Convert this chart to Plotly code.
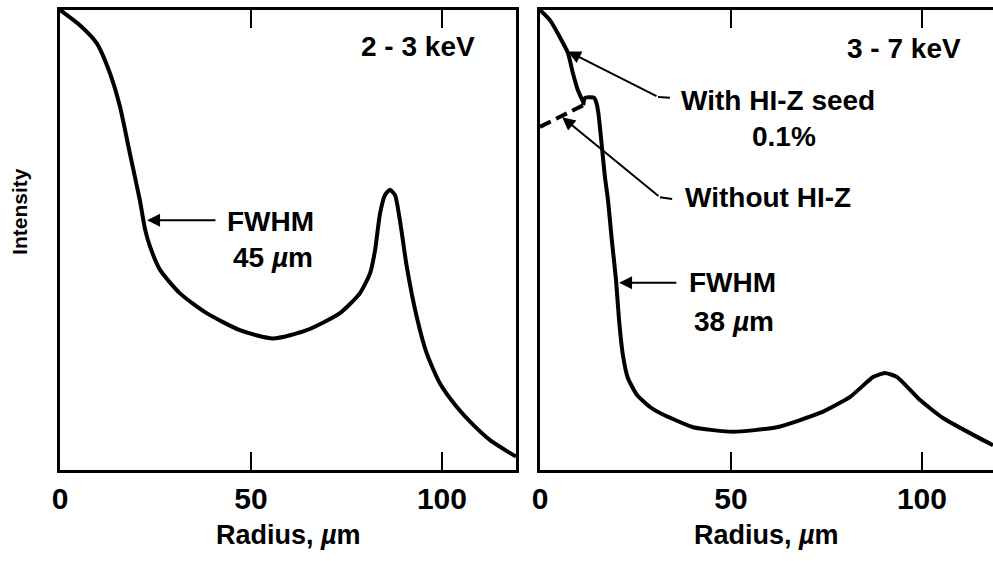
import plotly.graph_objects as go

# ---------------- data ----------------
# Left panel: 2 - 3 keV
left_radius = [0, 5.2, 9.6, 13.1, 15.7, 18.3, 20.9, 22.3, 23.6, 26.2, 31.4, 38.4,
               47.1, 55.8, 64.6, 73.3, 78.5, 81.2, 82.5, 83.8, 85.1, 86.4, 87.7,
               89.0, 90.8, 93.4, 96.0, 99.5, 103.8, 108.2, 112.6, 119.4]
left_intensity = [1.0, 0.967, 0.928, 0.862, 0.790, 0.688, 0.587, 0.522, 0.485, 0.435,
                  0.384, 0.341, 0.304, 0.286, 0.304, 0.341, 0.384, 0.428, 0.478, 0.558,
                  0.598, 0.609, 0.598, 0.543, 0.442, 0.333, 0.254, 0.188, 0.138, 0.098,
                  0.065, 0.029]

# Right panel: 3 - 7 keV, centre with Hi-Z seed
seed_radius = [0, 2.6, 5.2, 7.3, 8.6, 9.9, 11.3]
seed_intensity = [1.0, 0.978, 0.941, 0.907, 0.863, 0.826, 0.800]

# Right panel: centre without Hi-Z (dashed)
noseed_radius = [0, 11.3]
noseed_intensity = [0.746, 0.793]

# Right panel: common profile
shared_radius = [11.3, 11.7, 12.3, 14.2, 14.8, 15.3, 16.2, 17.0, 17.8, 18.8, 19.9, 20.7,
                 21.7, 23.0, 25.4, 28.8, 31.4, 40.1, 50.5, 62.0, 73.3, 81.2, 87.2,
                 90.3, 93.5, 99.5, 105.5, 114.4, 118.6]
shared_intensity = [0.793, 0.808, 0.810, 0.809, 0.797, 0.775, 0.703, 0.637, 0.587, 0.500,
                    0.413, 0.326, 0.250, 0.200, 0.163, 0.137, 0.124, 0.093, 0.083, 0.093,
                    0.124, 0.159, 0.202, 0.211, 0.202, 0.152, 0.113, 0.072, 0.054]

x_ticks = [0, 50, 100]
x_tick_labels = ["0", "50", "100"]

# ---------------- figure ----------------
FONT = "Liberation Sans, Arial, Helvetica, sans-serif"
W, H = 993, 561
fig = go.Figure()

line_style = dict(color="black", width=4)
fig.add_trace(go.Scatter(x=left_radius, y=left_intensity, mode="lines",
                         line=dict(**line_style, shape="spline", smoothing=0.6),
                         xaxis="x", yaxis="y", showlegend=False))
fig.add_trace(go.Scatter(x=seed_radius, y=seed_intensity, mode="lines",
                         line=dict(**line_style, shape="spline", smoothing=0.6),
                         xaxis="x2", yaxis="y2", showlegend=False))
fig.add_trace(go.Scatter(x=noseed_radius, y=noseed_intensity, mode="lines",
                         line=dict(color="black", width=4, dash="12px,6px"),
                         xaxis="x2", yaxis="y2", showlegend=False))
fig.add_trace(go.Scatter(x=shared_radius, y=shared_intensity, mode="lines",
                         line=dict(**line_style, shape="spline", smoothing=0.5),
                         xaxis="x2", yaxis="y2", showlegend=False))

axis_common = dict(showgrid=False, zeroline=False, showline=True, linecolor="black",
                   linewidth=3)
xcommon = dict(axis_common, tickvals=x_ticks, ticktext=x_tick_labels, ticks="inside",
               ticklen=18, tickwidth=2, tickcolor="black", mirror="ticks",
               tickfont=dict(family=FONT, size=30, color="black", weight="bold"),
               ticklabelstandoff=0)
ycommon = dict(axis_common, showticklabels=False, ticks="", range=[0, 1.0])

L0, L1 = 60 / W, 516 / W
R0, R1 = 540 / W, 1.0
fig.update_layout(
    width=W, height=H,
    margin=dict(l=0, r=0, t=10, b=91, autoexpand=False),
    paper_bgcolor="white", plot_bgcolor="white",
    xaxis=dict(xcommon, domain=[L0, L1], range=[0, 119.4], anchor="y"),
    yaxis=dict(ycommon, domain=[0, 1], anchor="x", mirror=True),
    xaxis2=dict(xcommon, domain=[R0, R1], range=[0, 118.6], anchor="y2"),
    yaxis2=dict(ycommon, domain=[0, 1], anchor="x2", mirror=False),
)

big = dict(family=FONT, size=28, color="black", weight="bold")
ann = []


def text(x, y, t, xref, yref, size=28, **kw):
    ann.append(dict(x=x, y=y, xref=xref, yref=yref, text=t, showarrow=False,
                    xanchor="center", yanchor="middle",
                    font=dict(big, size=size), **kw))


def arrow(x, y, ax, ay, xref, yref):
    ann.append(dict(x=x, y=y, ax=ax, ay=ay, xref=xref, yref=yref, axref=xref,
                    ayref=yref, text="", showarrow=True, arrowhead=2, arrowsize=1.3,
                    arrowwidth=2, arrowcolor="black"))


# left panel texts
text(93.7, 0.92, "2 - 3 keV", "x", "y")
text(55.2, 0.541, "FWHM", "x", "y")
text(55.8, 0.461, "45 <i>µ</i>m", "x", "y")
arrow(22.8, 0.543, 41.1, 0.543, "x", "y")

# right panel texts
text(95.4, 0.917, "3 - 7 keV", "x2", "y2")
text(62.3, 0.804, "With HI-Z seed", "x2", "y2")
text(64.0, 0.726, "0.1%", "x2", "y2")
text(59.7, 0.593, "Without HI-Z", "x2", "y2")
text(50.5, 0.407, "FWHM", "x2", "y2")
text(50.8, 0.322, "38 <i>µ</i>m", "x2", "y2")
arrow(7.3, 0.91, 30.9, 0.811, "x2", "y2")
arrow(5.8, 0.767, 31.4, 0.593, "x2", "y2")
arrow(20.7, 0.407, 36.1, 0.407, "x2", "y2")

# axis titles
text((L0 + L1) / 2, -0.141, "Radius, <i>µ</i>m", "paper", "paper", size=27)
text((R0 + R1) / 2, -0.141, "Radius, <i>µ</i>m", "paper", "paper", size=27)
text(20 / W, 0.561, "Intensity", "paper", "paper", size=21, textangle=-90)

fig.update_layout(annotations=ann)

# short hooks of leader lines
shapes = [
    dict(type="line", xref="x2", yref="y2", x0=30.9, y0=0.811, x1=34.0, y1=0.809,
         line=dict(color="black", width=2)),
    dict(type="line", xref="x2", yref="y2", x0=31.4, y0=0.593, x1=34.6, y1=0.589,
         line=dict(color="black", width=2)),
]
fig.update_layout(shapes=shapes)

fig.write_html("out.html",
               config={"displayModeBar": False},
               post_script="document.body.style.margin='0';"
                           "document.body.style.overflow='hidden';")
